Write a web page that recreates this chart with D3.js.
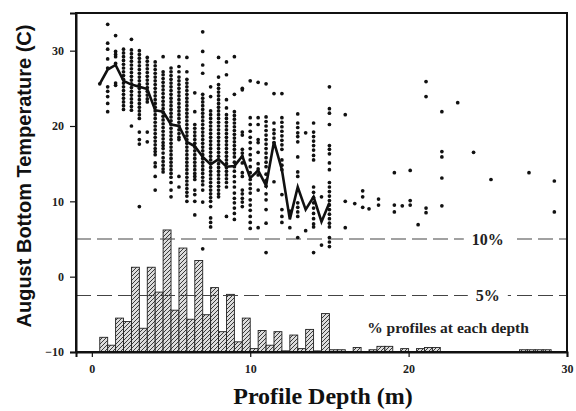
<!DOCTYPE html>
<html>
<head>
<meta charset="utf-8">
<script src="https://cdn.jsdelivr.net/npm/d3@7/dist/d3.min.js"></script>
<style>
  body { margin: 0; background: #fff; }
  svg { display: block; }
</style>
</head>
<body>
<div id="chart"></div>
<script>
// depth columns (m) and the bottom temperatures read at each of them (C)
const colDepth = [0.5, 1.0, 1.5, 2.0, 2.5, 3.0, 3.5, 4.0, 4.5, 5.0, 5.5, 6.0, 6.5, 7.0, 7.5, 8.0, 8.5, 9.0, 9.5, 10.0,
  10.5, 11.0, 11.5, 12.0, 12.5, 13.0, 13.5, 14.0, 14.5, 15.0,
  16.0, 16.6, 17.1, 17.5, 18.1, 19.1, 19.6, 20.1, 20.6, 21.1, 22.1, 23.1, 24.1, 25.2, 27.6, 29.2];
const colTemps = [
  "25.6",
  "33.5 31.0 30.2 28.9 27.7 25.2 24.6 23.9 23.0 21.9",
  "32.0 29.9 29.5 29.2 28.3 25.7 25.4",
  "30.2 29.7 29.2 28.7 28.2 27.7 27.2 26.7 26.2 25.7 25.2 24.7 24.2 23.7 23.2 22.7 22.2",
  "31.5 30.1 29.6 29.1 28.6 28.1 27.6 27.1 26.6 26.1 25.6 25.1 24.6 24.1 23.6 23.1 22.6 22.1 20.0",
  "30.0 29.5 29.0 28.5 28.0 27.5 27.0 26.5 26.0 25.5 25.0 24.5 24.0 23.5 23.0 22.5 22.0 21.5 21.0 19.2 18.2 17.6 9.3",
  "29.1 28.6 28.1 27.6 27.1 26.6 26.1 25.6 25.1 24.6 24.1 23.6 23.2 19.2 17.9",
  "28.5 28.0 27.5 27.0 26.5 26.0 25.5 25.0 24.5 24.0 23.5 23.0 22.5 22.0 21.5 21.0 20.5 20.0 19.5 19.0 18.5 18.0 17.5 17.0 16.6 16.2 15.1 14.6 13.3 11.5",
  "29.2 27.2 26.8 26.3 25.8 25.3 24.8 24.3 23.8 23.3 22.8 22.3 21.8 21.3 20.8 20.3 19.8 19.3 18.8 18.3 17.8 17.4 17.0 16.4 15.8 15.3 14.8 14.3 13.9",
  "27.7 27.2 26.7 26.2 25.7 25.2 24.7 24.2 23.7 23.2 22.7 22.2 21.7 21.2 20.7 20.2 19.7 19.2 18.7 18.2 17.7 17.2 16.7 16.2 15.7 15.2 14.7 14.2 13.7 13.2 12.5 11.5 10.6",
  "29.2 27.9 27.2 26.5 26.0 25.5 25.0 24.5 24.0 23.5 23.0 22.5 22.0 21.5 21.0 20.5 20.0 19.5 19.0 18.5 18.2 13.3 11.9",
  "29.1 27.2 26.2 25.7 25.2 24.7 24.2 23.7 23.2 22.7 22.2 21.7 21.2 20.7 20.2 19.7 19.2 18.7 18.2 17.7 17.2 16.7 16.2 15.7 15.2 14.7 14.2 13.7 13.2 12.7 12.2 11.7 11.2 10.7 10.0",
  "24.4 21.9 20.2 19.7 19.2 18.7 18.2 17.7 17.2 16.7 16.2 15.7 15.2 14.7 14.2 13.7 13.3 12.9 11.5 10.9 10.0 8.2",
  "32.5 29.9 28.1 27.0 24.2 23.7 23.2 22.7 22.2 21.7 21.2 20.7 20.2 19.7 19.2 18.7 18.2 17.7 17.2 16.7 16.2 15.7 15.2 14.7 14.2 13.7 13.2 12.7 12.2 11.5 9.9 3.7",
  "25.2 23.9 22.0 21.5 21.0 20.5 20.0 19.5 19.0 18.5 18.0 17.5 17.0 16.5 16.0 15.5 15.0 14.5 14.0 13.5 13.0 12.5 12.0 11.5 11.0 10.5 10.0 9.3 7.8 7.2 6.6",
  "29.1 26.5 25.5 25.0 24.5 24.0 23.5 23.0 22.5 22.0 21.5 21.0 20.5 20.0 19.5 19.0 18.5 18.0 17.5 17.0 16.5 16.0 15.5 15.0 14.5 14.0 13.5 13.0 12.5 12.0 11.5 11.0 10.6",
  "28.5 26.8 23.5 22.4 21.5 21.0 20.5 20.0 19.5 19.0 18.5 18.0 17.5 17.0 16.5 16.0 15.5 15.0 14.5 14.0 13.5 13.0 12.5 11.9 8.0",
  "29.2 24.2 21.9 21.4 20.9 20.4 19.9 19.4 18.9 18.4 17.9 17.4 16.9 16.4 15.9 15.2 14.6 14.0 13.3 12.6 11.9 11.1 10.4 9.8 9.1 8.4 7.6",
  "25.0 24.8 19.2 18.8 16.9 16.4 15.9 15.1 13.8 13.3 11.5 11.0 10.4 9.9 9.3",
  "26.0 21.1 20.2 19.3 18.5 17.8 17.0 16.2 15.5 14.6 13.8 12.9 12.3 11.7 11.1 10.2 9.5 8.8 8.0 7.2 6.4",
  "25.8 21.1 20.2 18.2 17.8 16.5 15.0 14.3 13.5 11.5 6.5",
  "25.6 21.2 20.6 20.0 19.4 18.8 18.2 17.6 17.0 16.4 15.8 15.2 14.6 13.6 12.8 12.0 11.0 10.2 8.9 7.1 3.2",
  "24.3 20.4 19.5 19.0 18.4 17.8 17.3 12.6",
  "24.3 21.1 20.5 19.9 19.3 18.7 18.1 17.5 16.9 15.5 14.8 14.2 10.9 8.9 8.0 7.2",
  "8.7 6.5",
  "21.6 20.4 19.8 19.1 18.6 17.9 15.9 13.9 13.3 11.5 9.8 9.2 8.6 8.0 5.2",
  "19.1 6.1",
  "20.4 19.2 18.6 18.0 17.4 16.8 16.1 15.5 11.9 11.2 10.5 9.8 9.1 8.4 7.7 7.0 6.6 3.2",
  "10.6 4.2",
  "25.2 22.3 21.7 20.2 17.4 16.9 16.3 15.1 14.2 12.5 11.9 11.3 10.7 10.1 9.5 8.9 8.3 7.7 7.1 6.6 5.2 4.6 4.0",
  "21.5 10.0 6.5",
  "9.7",
  "11.4 10.6 9.2",
  "9.0",
  "10.3 9.5",
  "13.8 9.5 8.6",
  "9.4",
  "14.1 10.1 9.5",
  "6.9",
  "25.9 23.9 9.1 8.5",
  "21.9 16.6 15.9 13.1 9.4",
  "23.1",
  "16.5",
  "12.9",
  "13.8",
  "12.7 8.6"
];

// mean temperature by depth
const meanDepth = [0.5, 1.0, 1.5, 2.0, 2.5, 3.0, 3.5, 4.0, 4.5, 5.0, 5.5, 6.0, 6.5, 7.0, 7.5, 8.0, 8.5, 9.0, 9.5, 10.0,
  10.5, 11.0, 11.5, 12.0, 12.5, 13.0, 13.5, 14.0, 14.5, 15.0];
const meanTemp = [25.6, 27.5, 28.1, 26.0, 25.5, 25.2, 24.9, 22.1, 21.9, 20.2, 20.0, 17.9, 17.3, 15.9, 14.9, 15.6, 14.6, 14.7, 16.0, 13.1,
  14.1, 12.1, 17.9, 14.2, 7.6, 11.9, 8.9, 10.6, 7.3, 9.8];

// % of profiles in each 0.5 m depth bin (bin start)
const binStart = [0.5, 1.0, 1.5, 2.0, 2.5, 3.0, 3.5, 4.0, 4.5, 5.0, 5.5, 6.0, 6.5, 7.0, 7.5, 8.0, 8.5, 9.0, 9.5, 10.0,
  10.5, 11.0, 11.5, 12.0, 12.5, 13.0, 13.5, 14.0, 14.5, 15.0, 15.5, 16.5, 17.5, 18.0, 18.5, 19.5, 20.5, 21.0, 21.5,
  27.0, 27.5, 28.0, 28.5];
const binPct = [1.3, 0.6, 3.0, 2.7, 7.5, 2.1, 7.5, 5.3, 10.8, 3.7, 9.2, 2.9, 8.1, 3.3, 5.7, 1.8, 5.1, 0.9, 3.0, 0.3,
  1.9, 0.6, 1.8, 0.1, 1.5, 0.3, 2.0, 0.1, 3.4, 0.2, 0.2, 0.4, 0.2, 0.5, 0.5, 0.3, 0.3, 0.4, 0.4,
  0.2, 0.2, 0.2, 0.2];

const refLines = [10, 5];
const xTicks = [0, 10, 20, 30];
const yTicks = [-10, 0, 10, 20, 30];

const width = 576;
const height = 411;
const margin = { top: 13, right: 9, bottom: 59, left: 76 };

const svg = d3.select("#chart").append("svg")
  .attr("width", width)
  .attr("height", height);

const x = d3.scaleLinear().domain([-1, 30]).range([margin.left, width - margin.right]);
const y = d3.scaleLinear().domain([-10, 35]).range([height - margin.bottom, margin.top]);
// histogram shares the plot: 0% on the -10 line, 10% at 5
const yPct = d3.scaleLinear().domain([0, 10]).range([y(-10), y(5)]);

const serif = "'Liberation Serif', 'Times New Roman', serif";

// hatch pattern for bars
const defs = svg.append("defs");
const pat = defs.append("pattern")
  .attr("id", "hatch")
  .attr("patternUnits", "userSpaceOnUse")
  .attr("width", 4)
  .attr("height", 4);
pat.append("rect").attr("width", 4).attr("height", 4).attr("fill", "#dcdcdc");
pat.append("path")
  .attr("d", "M-1,1 l2,-2 M0,4 l4,-4 M3,5 l2,-2")
  .attr("stroke", "#3a3a3a")
  .attr("stroke-width", 1);

// bars
svg.append("g").selectAll("rect")
  .data(binStart.map((d, i) => ({ d, p: binPct[i] })))
  .join("rect")
  .attr("x", b => x(b.d))
  .attr("width", b => x(b.d + 0.5) - x(b.d))
  .attr("y", b => yPct(b.p))
  .attr("height", b => yPct(0) - yPct(b.p))
  .attr("fill", "url(#hatch)")
  .attr("stroke", "#222")
  .attr("stroke-width", 0.9);

// reference lines 10% and 5%
const refG = svg.append("g");
refG.selectAll("line")
  .data(refLines)
  .join("line")
  .attr("x1", x(-1))
  .attr("x2", x(30))
  .attr("y1", d => yPct(d))
  .attr("y2", d => yPct(d))
  .attr("stroke", "#444")
  .attr("stroke-width", 1.1)
  .attr("stroke-dasharray", "15,6");

refLines.forEach(p => {
  const label = p + "%";
  const cx = x(25.0);
  const t = refG.append("text")
    .attr("x", cx)
    .attr("y", yPct(p))
    .attr("dy", "0.35em")
    .attr("text-anchor", "middle")
    .style("font-family", serif)
    .style("font-weight", "bold")
    .style("font-size", "16px")
    .attr("fill", "#222")
    .text(label);
  const bb = t.node().getBBox();
  refG.insert("rect", "text")
    .attr("x", bb.x - 8)
    .attr("y", yPct(p) - 3)
    .attr("width", bb.width + 16)
    .attr("height", 6)
    .attr("fill", "#fff");
});

svg.append("text")
  .attr("x", 448)
  .attr("y", 333)
  .attr("text-anchor", "middle")
  .style("font-family", serif)
  .style("font-weight", "bold")
  .style("font-size", "15.5px")
  .attr("fill", "#222")
  .text("% profiles at each depth");

// scatter points
const pts = [];
colDepth.forEach((d, i) => {
  colTemps[i].split(" ").forEach(t => pts.push({ d, t: +t }));
});
svg.append("g").selectAll("circle")
  .data(pts)
  .join("circle")
  .attr("cx", p => x(p.d))
  .attr("cy", p => y(p.t))
  .attr("r", 1.85)
  .attr("fill", "#111");

// mean line
const line = d3.line()
  .x((d, i) => x(meanDepth[i]))
  .y(d => y(d));
svg.append("path")
  .datum(meanTemp)
  .attr("d", line)
  .attr("fill", "none")
  .attr("stroke", "#111")
  .attr("stroke-width", 2.6)
  .attr("stroke-linejoin", "miter");

// frame
svg.append("rect")
  .attr("x", x(-1))
  .attr("y", y(35))
  .attr("width", x(30) - x(-1))
  .attr("height", y(-10) - y(35))
  .attr("fill", "none")
  .attr("stroke", "#111")
  .attr("stroke-width", 2);

// axes
const xAxis = svg.append("g")
  .attr("transform", `translate(0,${y(-10)})`)
  .call(d3.axisBottom(x).tickValues(xTicks).tickSize(5).tickPadding(7).tickFormat(d3.format("d")));
const yAxis = svg.append("g")
  .attr("transform", `translate(${x(-1)},0)`)
  .call(d3.axisLeft(y).tickValues(yTicks).tickSize(6).tickPadding(6).tickFormat(d3.format("d")));

[xAxis, yAxis].forEach(g => {
  g.select(".domain").attr("stroke", "#111").attr("stroke-width", 2);
  g.selectAll(".tick line").attr("stroke", "#111").attr("stroke-width", 1.2);
  g.selectAll(".tick text")
    .style("font-family", serif)
    .style("font-weight", "bold")
    .style("font-size", "12px")
    .attr("fill", "#222");
});

// axis titles
svg.append("text")
  .attr("x", 323)
  .attr("y", 404)
  .attr("text-anchor", "middle")
  .style("font-family", serif)
  .style("font-weight", "bold")
  .style("font-size", "24px")
  .attr("fill", "#111")
  .text("Profile Depth (m)");

svg.append("text")
  .attr("transform", "translate(24,176) rotate(-90)")
  .attr("text-anchor", "middle")
  .attr("dy", "0.35em")
  .style("font-family", "'Liberation Sans', Arial, sans-serif")
  .style("font-weight", "bold")
  .style("font-size", "20px")
  .attr("fill", "#111")
  .text("August Bottom Temperature (C)");
</script>
</body>
</html>
